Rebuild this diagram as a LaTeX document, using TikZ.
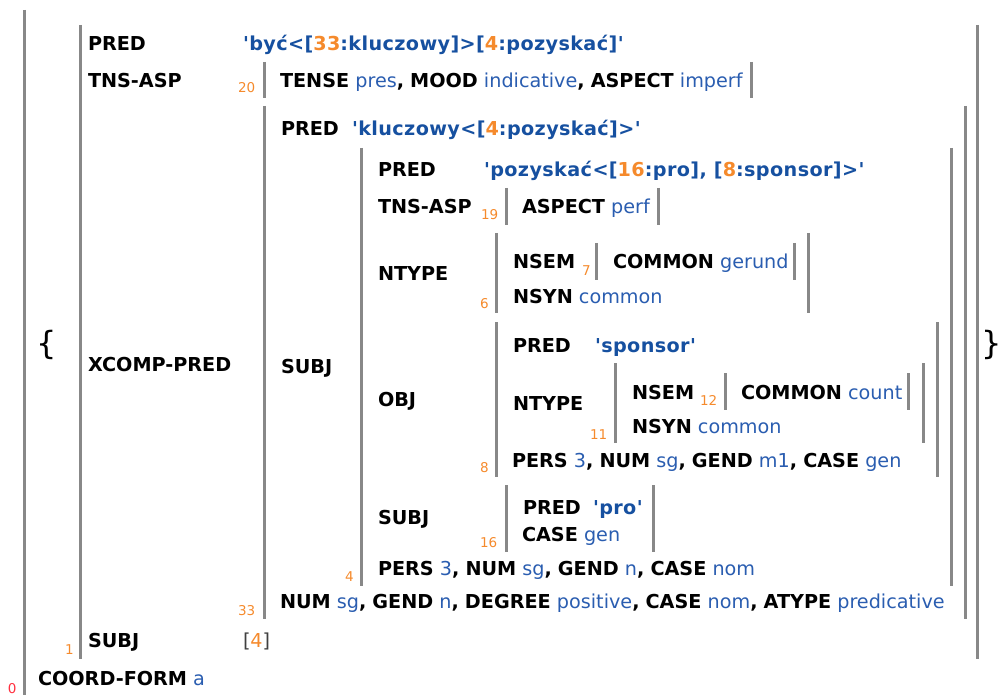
\documentclass[tikz,border=0pt]{standalone}
\usepackage{fontspec}
\newfontfamily\dv{DejaVu Sans}
\definecolor{valblue}{HTML}{2A5DB0}
\definecolor{predblue}{HTML}{1650A0}
\definecolor{idxor}{HTML}{F58A2C}
\definecolor{idxred}{HTML}{FF3040}
\definecolor{bargray}{HTML}{888888}
\newcommand\fa[1]{\textbf{#1}}
\newcommand\fv[1]{\textcolor{valblue}{#1}}
\newcommand\pv[1]{\textcolor{predblue}{\bfseries\addfontfeature{LetterSpace=2}#1}}
\newcommand\pn[1]{\textcolor{idxor}{#1}}
\tikzset{
  t/.style={anchor=base west,inner sep=0pt,outer sep=0pt,font=\dv\fontsize{19.2}{22}\selectfont},
  ix/.style={anchor=base west,inner sep=0pt,outer sep=0pt,text=idxor,font=\dv\fontsize{13.5}{15}\selectfont},
  bar/.style={draw=bargray,line width=3pt},
  brace/.style={inner sep=0pt,font=\dv\fontsize{32}{36}\selectfont}
}
\begin{document}
\begin{tikzpicture}[x=1pt,y=-1pt]
\useasboundingbox (0,0) rectangle (1004,695);
% bars
\draw[bar] (24,10) -- (24,695);
\draw[bar] (80,25) -- (80,659);
\draw[bar] (977,25) -- (977,659);
\draw[bar] (264,62) -- (264,98);
\draw[bar] (751,62) -- (751,98);
\draw[bar] (264,106) -- (264,619);
\draw[bar] (965,106) -- (965,619);
\draw[bar] (361,148) -- (361,586);
\draw[bar] (951,148) -- (951,586);
\draw[bar] (506,188) -- (506,225);
\draw[bar] (658,188) -- (658,225);
\draw[bar] (496,233) -- (496,313);
\draw[bar] (808,233) -- (808,313);
\draw[bar] (596,243) -- (596,280);
\draw[bar] (794,243) -- (794,280);
\draw[bar] (496,322) -- (496,477);
\draw[bar] (937,322) -- (937,477);
\draw[bar] (615,363) -- (615,443);
\draw[bar] (923,363) -- (923,443);
\draw[bar] (725,373) -- (725,410);
\draw[bar] (908,373) -- (908,410);
\draw[bar] (506,485) -- (506,552);
\draw[bar] (653,485) -- (653,552);
% braces
\node[brace] (lbrace) at (47,345) {\{};
\node[brace] (rbrace) at (992,345) {\}};
% f1
\node[t] (pred1) at (88,51) {\fa{PRED}};
\node[t] (pred1v) at (243,51) {\pv{'być<[\pn{33}:kluczowy]>[\pn{4}:pozyskać]'}};
\node[t] (tns1) at (88,88) {\fa{TNS-ASP}};
\node[ix] (i20) at (238,93) {20};
\node[t] (tns1v) at (280,88) {\fa{TENSE} \fv{pres}\fa{,} \fa{MOOD} \fv{indicative}\fa{,} \fa{ASPECT} \fv{imperf}};
\node[t] (xcomp) at (88,371) {\fa{XCOMP-PRED}};
% f33
\node[t] (pred33) at (281,136) {\fa{PRED}};
\node[t] (pred33v) at (352,136) {\pv{'kluczowy<[\pn{4}:pozyskać]>'}};
\node[t] (subj33) at (281,373) {\fa{SUBJ}};
% f4
\node[t] (pred4) at (378,177) {\fa{PRED}};
\node[t] (pred4v) at (484,177) {\pv{'pozyskać<[\pn{16}:pro], [\pn{8}:sponsor]>'}};
\node[t] (tns4) at (378,214) {\fa{TNS-ASP}};
\node[ix] (i19) at (481,220) {19};
\node[t] (tns4v) at (522,214) {\fa{ASPECT} \fv{perf}};
\node[t] (ntype4) at (378,280) {\fa{NTYPE}};
\node[ix] (i6) at (480,308) {6};
\node[t] (nsem6) at (513,269) {\fa{NSEM}};
\node[ix] (i7) at (582,275) {7};
\node[t] (nsem6v) at (613,269) {\fa{COMMON} \fv{gerund}};
\node[t] (nsyn6) at (513,303) {\fa{NSYN} \fv{common}};
\node[t] (obj4) at (378,406) {\fa{OBJ}};
% f8
\node[t] (pred8) at (513,352) {\fa{PRED}};
\node[t] (pred8v) at (595,352) {\pv{'sponsor'}};
\node[t] (ntype8) at (513,410) {\fa{NTYPE}};
\node[ix] (i11) at (590,439) {11};
\node[t] (nsem11) at (632,399) {\fa{NSEM}};
\node[ix] (i12) at (700,405) {12};
\node[t] (nsem11v) at (741,399) {\fa{COMMON} \fv{count}};
\node[t] (nsyn11) at (632,433) {\fa{NSYN} \fv{common}};
\node[ix] (i8) at (480,472) {8};
\node[t] (agr8) at (512,467) {\fa{PERS} \fv{3}\fa{,} \fa{NUM} \fv{sg}\fa{,} \fa{GEND} \fv{m1}\fa{,} \fa{CASE} \fv{gen}};
% f16
\node[t] (subj4) at (378,524) {\fa{SUBJ}};
\node[t] (pred16) at (523,514) {\fa{PRED}};
\node[t] (pred16v) at (593,514) {\pv{'pro'}};
\node[t] (case16) at (522,541) {\fa{CASE} \fv{gen}};
\node[ix] (i16) at (480,547) {16};
\node[ix] (i4) at (345,581) {4};
\node[t] (agr4) at (378,575) {\fa{PERS} \fv{3}\fa{,} \fa{NUM} \fv{sg}\fa{,} \fa{GEND} \fv{n}\fa{,} \fa{CASE} \fv{nom}};
\node[ix] (i33) at (238,615) {33};
\node[t] (agr33) at (280,608) {\fa{NUM} \fv{sg}\fa{,} \fa{GEND} \fv{n}\fa{,} \fa{DEGREE} \fv{positive}\fa{,} \fa{CASE} \fv{nom}\fa{,} \fa{ATYPE} \fv{predicative}};
% f1 subj
\node[t] (subj1) at (88,647) {\fa{SUBJ}};
\node[ix] (i1) at (65,654) {1};
\node[t] (subj1v) at (243,647) {\textcolor{black!75}{[}\pn{4}\textcolor{black!75}{]}};
% f0
\node[t] (coord) at (38,685) {\fa{COORD-FORM} \fv{a}};
\node[ix,text=idxred] (i0) at (8,693) {0};
\end{tikzpicture}
\end{document}
